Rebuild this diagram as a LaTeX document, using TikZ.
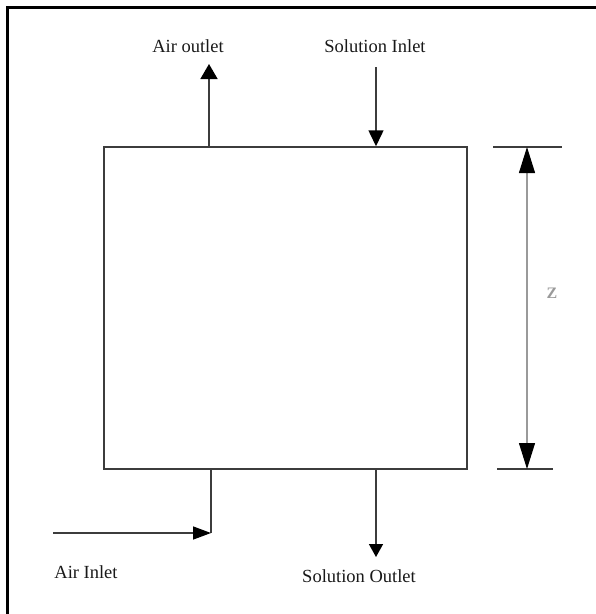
\documentclass[tikz,border=0pt]{standalone}
\usepackage{fontspec}
\setmainfont{Liberation Serif}
\usetikzlibrary{arrows.meta}
\definecolor{ln}{HTML}{3C3C3C}
\definecolor{dimc}{HTML}{9A9A9A}
\begin{document}
\begin{tikzpicture}[x=1pt,y=-1pt,
  flow/.style={draw=ln,line width=1.5pt},
  lbl/.style={font=\fontsize{18.5}{20}\selectfont, text=black!90, inner sep=0pt},
  dimline/.style={draw=dimc,line width=1.1pt},
  tickline/.style={draw=ln,line width=1.3pt}]
\useasboundingbox (0,0) rectangle (596,614);
% frame (top and left only)
\draw[line width=3pt] (7,614) -- (7,7) -- (596,7);
% column
\node[draw=ln, line width=1.5pt, minimum width=363pt, minimum height=322pt, inner sep=0pt] (box) at (285.5,308) {};
% labels
\node[lbl] (lao) at (188,46) {Air outlet};
\node[lbl] (lsi) at (375,46) {Solution Inlet};
\node[lbl] (lai) at (86,572) {Air Inlet};
\node[lbl] (lso) at (359,576) {Solution Outlet};
% air outlet
\coordinate (aoE) at (209,64);
\draw[flow,-{Triangle[width=17pt,length=15pt,color=black]}] (box.north -| aoE) -- (aoE);
% solution inlet
\coordinate (siS) at (376,67);
\draw[flow,-{Triangle[width=15pt,length=16pt,color=black]}] (siS) -- (box.north -| siS);
% air inlet
\coordinate (aiS) at (53,533);
\coordinate (aiC) at (211,533);
\draw[flow] (box.south -| aiC) -- (aiC);
\draw[flow,-{Triangle[width=13pt,length=18pt,color=black]}] (aiS) -- (aiC);
% solution outlet
\coordinate (soE) at (376,557);
\draw[flow,-{Triangle[width=14pt,length=13pt,color=black]}] (box.south -| soE) -- (soE);
% dimension Z
\coordinate (t1) at (493,147);
\coordinate (t2) at (562,147);
\coordinate (b1) at (497,469);
\coordinate (b2) at (553,469);
\draw[tickline] (t1) -- (t2);
\draw[tickline] (b1) -- (b2);
\coordinate (dT) at (527,147);
\coordinate (dB) at (527,469);
\draw[dimline,{Triangle[width=16pt,length=26pt,color=black]}-{Triangle[width=16pt,length=26pt,color=black]}] (dT) -- (dB);
\node[font=\fontsize{16}{17}\selectfont\bfseries, text=dimc, inner sep=0pt] (z) at (552,293) {Z};
\end{tikzpicture}
\end{document}
